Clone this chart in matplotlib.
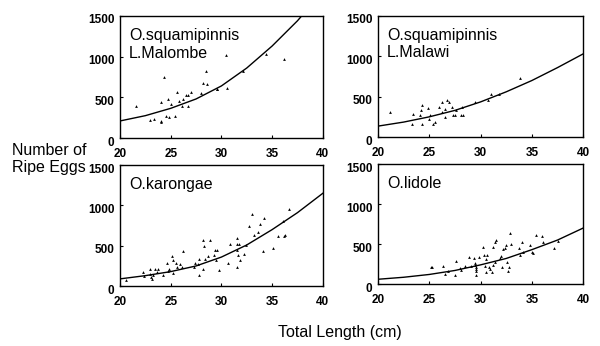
import matplotlib
matplotlib.use('Agg')
import matplotlib.pyplot as plt
import matplotlib.transforms as mtransforms
import numpy as np

plt.rcParams['font.family'] = ['Liberation Sans', 'DejaVu Sans']

# fitted curves (length in cm -> eggs)
curve_x = [20, 22.5, 25, 27.5, 30, 32.5, 35, 37.5, 40]
curve_malombe = [210, 275, 365, 480, 640, 860, 1130, 1440, 1800]
curve_malawi = [135, 185, 250, 330, 435, 560, 700, 860, 1030]
curve_karongae = [90, 130, 180, 250, 360, 510, 700, 910, 1150]
curve_lidole = [60, 85, 120, 170, 240, 320, 430, 550, 700]

# O.squamipinnis, L.Malombe
malombe_x = [21.6, 23.0, 23.4, 24.0, 24.0, 24.0, 24.3, 24.7, 24.5, 24.8, 25.0, 25.4, 25.6, 25.8,
             26.1, 26.2, 26.5, 26.7, 26.7, 27.0, 28.0, 28.2, 28.5, 28.6, 29.6, 29.6, 30.5, 30.6,
             32.1, 34.4, 36.2]
malombe_y = [389, 217, 238, 205, 200, 443, 750, 484, 266, 262, 414, 266, 566, 455,
             389, 484, 533, 398, 533, 566, 557, 676, 824, 668, 607, 600, 1016, 615,
             820, 1029, 967]

# O.squamipinnis, L.Malawi
malawi_x = [21.2, 23.4, 23.3, 24.1, 24.2, 24.3, 24.3, 24.9, 25.0, 25.1, 25.4, 25.6, 25.9, 26.2,
            26.2, 26.5, 26.5, 26.7, 26.9, 27.2, 27.3, 27.6, 27.5, 28.1, 28.2, 28.3, 29.5, 30.7,
            31.0, 31.8, 33.8]
malawi_y = [311, 290, 166, 269, 331, 394, 166, 365, 228, 269, 166, 186, 373, 311,
            435, 249, 352, 464, 435, 373, 269, 331, 269, 269, 373, 269, 435, 464,
            539, 539, 725]

# O.karongae
karongae_x = [20.6, 22.3, 22.4, 23.0, 23.0, 23.1, 23.2, 23.3, 23.5, 23.6, 23.7, 24.2, 24.6, 24.7,
              24.8, 25.1, 25.2, 25.2, 25.5, 25.6, 25.9, 26.2, 26.1, 27.3, 27.4, 27.7, 27.8, 27.8,
              28.2, 28.2, 28.3, 28.4, 28.7, 28.9, 29.3, 29.4, 29.5, 29.6, 29.8, 30.7, 30.8, 31.5,
              31.5, 31.5, 31.5, 31.6, 31.7, 31.8, 32.2, 32.4, 32.7, 33.0, 33.2, 33.6, 33.8, 34.2,
              34.1, 35.1, 35.6, 36.1, 36.2, 36.3, 36.7]
karongae_y = [70, 174, 120, 215, 153, 112, 91, 141, 215, 174, 215, 133, 286, 186,
              215, 369, 319, 162, 286, 236, 269, 431, 236, 236, 286, 269, 133, 340,
              215, 568, 493, 340, 369, 568, 381, 443, 327, 443, 195, 286, 526, 236,
              601, 526, 443, 381, 526, 319, 402, 506, 742, 891, 630, 671, 775, 849,
              431, 476, 617, 808, 622, 630, 961]

# O.lidole
lidole_x = [25.2, 25.3, 26.3, 26.5, 26.8, 27.6, 27.5, 28.0, 28.1, 28.5, 28.9, 29.1, 29.4, 29.5,
            29.5, 29.6, 29.6, 29.6, 29.6, 29.8, 30.2, 30.3, 30.4, 30.5, 30.5, 30.6, 30.8, 30.9,
            31.1, 31.2, 31.2, 31.4, 31.4, 31.5, 31.9, 32.0, 32.1, 32.2, 32.4, 32.5, 32.6, 32.7,
            32.8, 32.9, 33.0, 33.7, 33.8, 34.0, 34.1, 34.8, 35.0, 35.1, 35.4, 36.0, 36.1, 37.2,
            37.5]
lidole_y = [217, 208, 229, 125, 163, 292, 113, 204, 175, 225, 342, 225, 321, 267,
            238, 217, 167, 113, 183, 333, 458, 363, 225, 308, 154, 363, 208, 183,
            154, 458, 238, 279, 529, 550, 321, 350, 217, 433, 446, 488, 279, 167,
            217, 642, 500, 446, 363, 529, 404, 488, 404, 383, 613, 600, 529, 446,
            542]

panels = [
    ('O.squamipinnis\nL.Malombe', malombe_x, malombe_y, curve_malombe, [0.200, 0.601, 0.338, 0.353]),
    ('O.squamipinnis\nL.Malawi', malawi_x, malawi_y, curve_malawi, [0.630, 0.604, 0.342, 0.350]),
    ('O.karongae', karongae_x, karongae_y, curve_karongae, [0.200, 0.173, 0.338, 0.350]),
    ('O.lidole', lidole_x, lidole_y, curve_lidole, [0.630, 0.179, 0.342, 0.347]),
]

fig = plt.figure(figsize=(6, 3.46), dpi=100)
shift = mtransforms.ScaledTranslation(0, -3 / 100, fig.dpi_scale_trans)

for name, px, py, cy, pos in panels:
    ax = fig.add_axes(pos)
    ax.plot(curve_x, cy, color='black', lw=1.0)
    ax.scatter(px, py, marker='^', s=4, color='black', linewidths=0)
    ax.set_xlim(20, 40)
    ax.set_ylim(0, 1500)
    ax.set_xticks([20, 25, 30, 35, 40])
    ax.set_yticks([0, 500, 1000, 1500])
    ax.tick_params(direction='in', length=2, width=0.8, labelsize=8.5)
    ax.tick_params(axis='x', pad=7)
    ax.tick_params(axis='y', pad=4)
    for lab in ax.get_xticklabels():
        lab.set_fontweight('bold')
    for lab in ax.get_yticklabels():
        lab.set_fontweight('bold')
        lab.set_transform(lab.get_transform() + shift)
    for sp in ax.spines.values():
        sp.set_linewidth(1.0)
    ax.text(0.045, 0.90, name, transform=ax.transAxes, ha='left', va='top',
            fontsize=11.5, linespacing=1.2)

fig.text(0.02, 0.54, 'Number of\nRipe Eggs', ha='left', va='center', fontsize=11.5, linespacing=1.15)
fig.text(0.567, 0.04, 'Total Length (cm)', ha='center', va='center', fontsize=11.5)

fig.savefig('out.png', dpi=100)
